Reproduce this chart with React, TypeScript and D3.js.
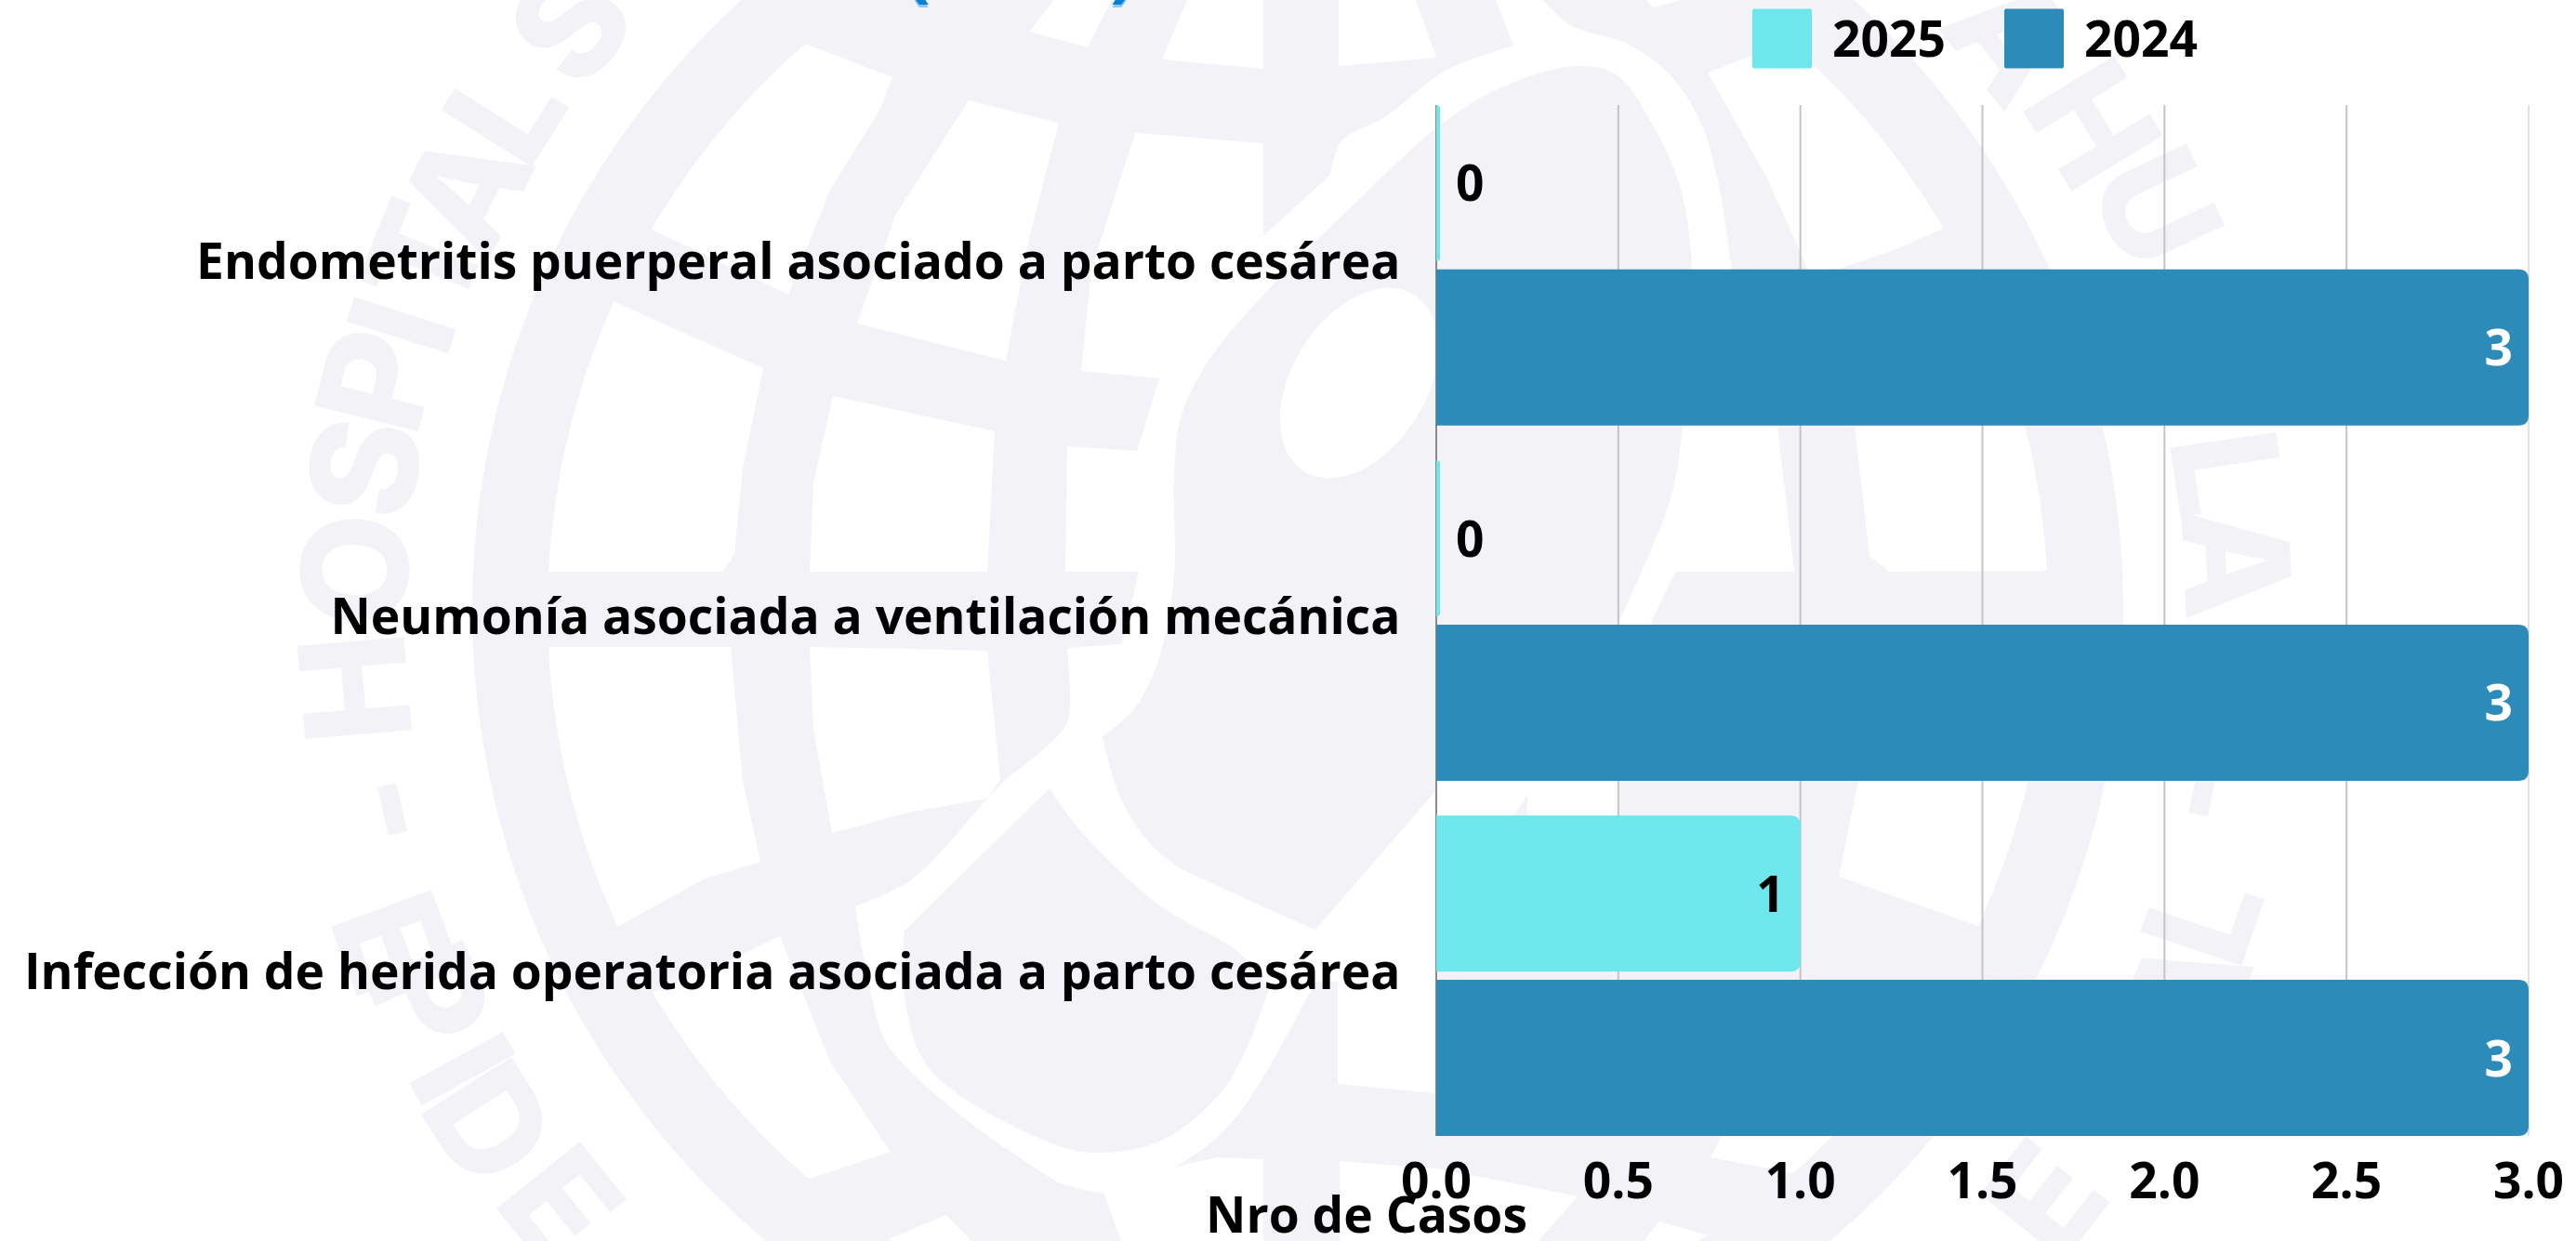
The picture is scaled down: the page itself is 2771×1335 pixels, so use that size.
import React from "react";
import * as d3 from "d3";

const categories = [
  "Endometritis puerperal asociado a parto cesárea",
  "Neumonía asociada a ventilación mecánica",
  "Infección de herida operatoria asociada a parto cesárea",
];
const seriesNames = ["2025", "2024"];
const values2025 = [0, 0, 1];
const values2024 = [3, 3, 3];
const tickValues = [0, 0.5, 1, 1.5, 2, 2.5, 3];
const colors = ["#6de7eb", "#2d8bb9"];
const axisTitle = "Nro de Casos";

// Watermark (decorative seal behind the chart)
const GREY = "#f3f3f7";
const seal = { cx: 1396, cy: 656, r: 888, inner: 807 };
type P = [number, number];
const whitePanels: P[][] = [
  [[840,37],[960,83],[946,119],[893,204],[848,317],[670,232],[700,100]],
  [[1042,108],[1139,132],[1107,256],[1082,388],[922,348],[964,230]],
  [[630,311],[821,396],[799,503],[790,596],[777,615],[560,615],[560,430]],
  [[896,426],[1070,464],[1062,615],[871,615],[875,520]],
  [[560,696],[786,696],[799,840],[818,927],[759,945],[640,1010],[560,900]],
  [[871,696],[1062,700],[1076,839],[1062,859],[982,873],[895,896],[875,784]],
  [[680,1077],[780,1035],[839,1007],[893,1142],[958,1239],[850,1275],[700,1200]],
  [[1107,34],[1170,51],[1196,0],[1134,0]],
  [[1277,0],[1359,0],[1359,74],[1250,64]],
  [[1440,0],[1523,0],[1545,62],[1440,71]],
  [[1771,0],[1778,8],[1809,0]],
  [[1837,78],[1884,60],[1980,60],[2120,235],[2092,245],[2035,270],[1975,290],[1945,290],[1900,190]],
  [[1995,458],[2230,458],[2230,614],[2033,615],[2011,598]],
  [[1999,840],[2230,840],[2170,1011],[1978,943]],
  [[1441,1249],[1543,1257],[1618,1271],[1697,1287],[1655,1335],[1441,1335]],
  [[1187,1282],[1259,1257],[1278,1252],[1310,1245],[1359,1247],[1359,1335],[1206,1335]],
  [[951,1335],[1018,1307],[1045,1335]],
  [[1852,1222],[1840,1245],[1945,1265],[1980,1222]],
  [[1785,1314],[1838,1329],[1825,1335],[1768,1335]],
  [[1545,840],[1589,840],[1589,880],[1545,880]],
  [[1643,840],[1742,840],[1742,880],[1643,880]],
];
// road network around the central shield: each run is one smooth edge, corners sit between runs
const roadRuns: P[][] = [
  [[1221,143],[1359,154],[1359,254],[1431,188]],
  [[1431,188],[1443,152],[1491,125],[1555,76],[1628,49]],
  [[1628,49],[1609,0],[1660,0]],
  [[1660,0],[1689,27],[1750,47],[1796,80],[1830,133],[1849,200],[1863,290],[1880,380],[1912,458]],
  [[1912,458],[1930,615],[1802,615],[1775,672],[1640,860],[1545,1000],[1545,850],[1740,672]],
  [[1740,672],[1797,536],[1810,458],[1820,290],[1807,200],[1777,133],[1738,80],[1695,71],[1620,92],[1555,130],[1453,223],[1364,312],[1300,388],[1270,450],[1263,511],[1263,617],[1247,707],[1220,763],[1186,792]],
  [[1186,792],[1207,862],[1250,920],[1332,963],[1415,1000]],
  [[1415,1000],[1545,850],[1545,1176],[1439,1166],[1439,1056],[1415,1056]],
  [[1415,1056],[1357,1162],[1315,1218],[1257,1259],[1191,1283],[1138,1272]],
  [[1138,1272],[1040,1205],[955,1124],[936,1065],[920,975]],
  [[920,975],[982,945],[1062,859],[1080,840]],
  [[1080,840],[1145,783],[1151,760],[1148,697]],
  [[1148,697],[1207,693],[1225,615],[1146,615],[1148,480],[1223,485],[1247,407],[1163,399],[1174,290],[1221,143]],
];
const shieldRuns: P[][] = [
  [[1129,848],[1166,898],[1249,975],[1332,1024],[1365,1064]],
  [[1365,1064],[1340,1130],[1311,1178],[1249,1227],[1178,1240],[1124,1227],[1000,1150],[973,1073],[973,1001]],
  [[973,1001],[1129,848]],
];
const straightRuns = new Set([0, 2, 4, 7, 12]);
const sealLetters: [string, number, number, boolean][] = [
  ["H",382,740,true],["O",382,613,true],["S",392,503,true],["P",405,409,true],["I",432,350,true],["T",457,277,true],["A",500,204,true],["L",543,119,true],["S",613,26,true],
  ["A",2165,40,true],["H",2251,133,true],["U",2320,223,true],["L",2396,509,true],["A",2406,605,true],["C",2405,735,true],
  ["-",412,873,true],["-",2380,852,true],
  ["E",423,1014,false],["P",462,1073,false],["I",497,1150,false],["D",527,1209,false],["E",603,1295,false],
  ["L",2369,987,false],["A",2350,1070,false],["E",2200,1290,false],
];

const FONT = "'Open Sans', sans-serif";
const FS = 53.33;
const WIDTH = 2771;
const HEIGHT = 1335;
const plot = { left: 1545, right: 2720, top: 113, bottom: 1222 };

function barPath(x0: number, x1: number, y0: number, y1: number, r: number) {
  const rr = Math.min(r, x1 - x0);
  const p = d3.path();
  p.moveTo(x0, y0);
  p.lineTo(x1 - rr, y0);
  p.quadraticCurveTo(x1, y0, x1, y0 + rr);
  p.lineTo(x1, y1 - rr);
  p.quadraticCurveTo(x1, y1, x1 - rr, y1);
  p.lineTo(x0, y1);
  p.closePath();
  return p.toString();
}

function runsPath(runs: P[][], straight: Set<number>) {
  const smooth = d3.line<P>().curve(d3.curveCatmullRom.alpha(0.5));
  const hard = d3.line<P>();
  const d = runs.map((r, i) => {
    const s = (straight.has(i) ? hard(r) : smooth(r)) as string;
    return i === 0 ? s : "L" + s.slice(1);
  });
  return d.join("") + "Z";
}

export default function App() {
  const x = d3.scaleLinear().domain([0, 3]).range([plot.left, plot.right]);
  const y = d3.scaleBand<string>().domain(categories).range([plot.top, plot.bottom]).paddingInner(0.0975).paddingOuter(0);
  const y1 = d3.scaleBand<string>().domain(seriesNames).range([0, y.bandwidth()]).paddingInner(0.05);
  const poly = d3.line<P>().curve(d3.curveLinearClosed);
  const series = [values2025, values2024];

  return (
    <svg width={WIDTH} height={HEIGHT} viewBox={`0 0 ${WIDTH} ${HEIGHT}`}
      style={{ position: "fixed", left: 0, top: 0, display: "block", background: "#fff" }}>
      <defs>
        <clipPath id="sealInner"><circle cx={seal.cx} cy={seal.cy} r={seal.inner} /></clipPath>
      </defs>
      <g>
        <circle cx={seal.cx} cy={seal.cy} r={seal.r} fill={GREY} />
        <g clipPath="url(#sealInner)">
          {whitePanels.map((p, i) => <path key={i} d={poly(p) as string} fill="#fff" />)}
          <path d={runsPath(roadRuns, straightRuns)} fill="#fff" />
        </g>
        <ellipse cx={1462} cy={412} rx={72} ry={112} transform="rotate(32 1462 412)" fill="#fff" />
        <path d={runsPath(shieldRuns, new Set([2]))} fill={GREY} />
        {sealLetters.map(([c, lx, ly, out], i) => {
          const a = (Math.atan2(ly - seal.cy, lx - seal.cx) * 180) / Math.PI;
          const rot = out ? a + 90 : a - 90;
          return (
            <text key={i} transform={`translate(${lx},${ly}) rotate(${rot})`} textAnchor="middle" dy="0.36em"
              fontFamily="Inter, sans-serif" fontWeight={800} fontSize={158} fill={GREY}>{c}</text>
          );
        })}
      </g>

      {/* clipped title: only the feet of its parentheses reach the page */}
      {[["(", 974], [")", 1194]].map(([c, px]) => (
        <g key={c as string} fontFamily={FONT} fontWeight={700} fontSize={80}>
          <text x={px as number} y={-5} fill="#93c5ea">{c}</text>
          <text x={px as number} y={-8} fill="#0a7fd6">{c}</text>
        </g>
      ))}

      {tickValues.filter((t) => t > 0).map((t) => (
        <line key={t} x1={x(t)} x2={x(t)} y1={plot.top} y2={plot.bottom} stroke="#c4c4c8" strokeWidth={t === 3 ? 1 : 2} />
      ))}
      <line x1={plot.left} x2={plot.left} y1={plot.top} y2={plot.bottom} stroke="#666" strokeWidth={1.5} />

      {categories.map((c, i) => (
        <g key={c}>
          {seriesNames.map((s, j) => {
            const v = series[j][i];
            const top = (y(c) as number) + (y1(s) as number);
            const x1 = Math.max(x(v), plot.left + 4);
            const inside = v > 0;
            return (
              <g key={s}>
                <path d={barPath(plot.left, x1, top, top + y1.bandwidth(), 11)} fill={colors[j]} />
                <text x={inside ? x(v) - 17 : x(v) + 21} y={top + y1.bandwidth() / 2 + 19.5}
                  textAnchor={inside ? "end" : "start"} fontFamily={FONT} fontWeight={700} fontSize={FS}
                  fill={j === 1 ? "#fff" : "#000"}>{v}</text>
              </g>
            );
          })}
          <text x={1506.5} y={(y(c) as number) + y.bandwidth() / 2 + 14.5} textAnchor="end"
            fontFamily={FONT} fontWeight={700} fontSize={FS} fill="#000">{c}</text>
        </g>
      ))}

      {tickValues.map((t) => (
        <text key={t} x={x(t)} y={1289} textAnchor="middle" fontFamily={FONT} fontWeight={700} fontSize={FS} fill="#000">{t.toFixed(1)}</text>
      ))}
      <text x={1470} y={1326} textAnchor="middle" fontFamily={FONT} fontWeight={700} fontSize={FS} fill="#000">{axisTitle}</text>

      {seriesNames.map((s, j) => {
        const lx = d3.scaleOrdinal<string, number>().domain(seriesNames).range([1885, 2156])(s);
        return (
          <g key={s}>
            <rect x={lx} y={9.5} width={64} height={64} rx={2} fill={colors[j]} />
            <text x={lx + 86} y={61} fontFamily={FONT} fontWeight={700} fontSize={FS} fill="#000">{s}</text>
          </g>
        );
      })}
    </svg>
  );
}
